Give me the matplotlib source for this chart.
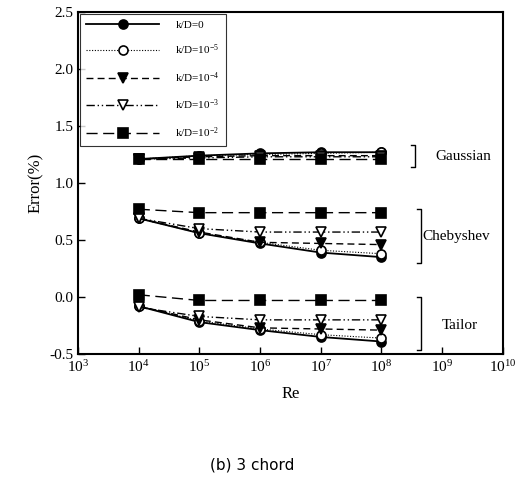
import numpy as np
import matplotlib.pyplot as plt

plt.rcParams['font.family'] = 'Liberation Serif'
plt.rcParams['mathtext.fontset'] = 'custom'
plt.rcParams['mathtext.rm'] = 'Liberation Serif'
plt.rcParams['mathtext.it'] = 'Liberation Serif:italic'

re = [1e4, 1e5, 1e6, 1e7, 1e8]
labels = ['k/D=0', 'k/D=10$^{-5}$', 'k/D=10$^{-4}$', 'k/D=10$^{-3}$', 'k/D=10$^{-2}$']

gauss = [
    [1.21, 1.24, 1.26, 1.27, 1.27],
    [1.21, 1.24, 1.25, 1.26, 1.27],
    [1.21, 1.23, 1.24, 1.24, 1.24],
    [1.21, 1.22, 1.23, 1.23, 1.23],
    [1.21, 1.21, 1.21, 1.21, 1.21],
]
cheby = [
    [0.69, 0.56, 0.47, 0.39, 0.35],
    [0.69, 0.56, 0.48, 0.41, 0.38],
    [0.69, 0.57, 0.48, 0.47, 0.46],
    [0.69, 0.60, 0.57, 0.57, 0.57],
    [0.77, 0.74, 0.74, 0.74, 0.74],
]
tailor = [
    [-0.08, -0.22, -0.29, -0.35, -0.39],
    [-0.08, -0.21, -0.28, -0.33, -0.36],
    [-0.08, -0.20, -0.27, -0.28, -0.29],
    [-0.09, -0.17, -0.20, -0.20, -0.20],
    [0.02, -0.03, -0.03, -0.03, -0.03],
]

styles = [
    dict(ls='-', marker='o', mfc='black', lw=1.3),
    dict(ls=(0, (1, 1.5)), marker='o', mfc='white', lw=0.8),
    dict(ls=(0, (5, 3)), marker='v', mfc='black', lw=1.0),
    dict(ls=(0, (6, 2, 1, 2, 1, 2)), marker='v', mfc='white', lw=1.0),
    dict(ls=(0, (8, 4)), marker='s', mfc='black', lw=1.0),
]

fig = plt.figure(figsize=(5.31, 4.98), dpi=100)
ax = fig.add_axes([0.147, 0.289, 0.8, 0.687])

for i in range(5):
    st = styles[i]
    for j, grp in enumerate([gauss, cheby, tailor]):
        ax.plot(re, grp[i], color='black', ls=st['ls'], lw=st['lw'], marker=st['marker'],
                mfc=st['mfc'], mec='black', mew=1.2, ms=6.5, label=labels[i] if j == 0 else None)

ax.set_xscale('log')
ax.set_xlim(1e3, 1e10)
ax.set_ylim(-0.5, 2.5)
ax.set_xticks([10.0**k for k in range(3, 11)])
ax.set_xticklabels(['10$^{%d}$' % k for k in range(3, 11)])
ax.set_yticks([-0.5, 0.0, 0.5, 1.0, 1.5, 2.0, 2.5])
ax.set_yticklabels(['-0.5', '0.0', '0.5', '1.0', '1.5', '2.0', '2.5'])
ax.minorticks_off()
ax.tick_params(direction='in', length=5, width=1, labelsize=11, top=False, right=False)
for s in ax.spines.values():
    s.set_linewidth(1.5)

ax.set_xlabel('Re', fontsize=12, labelpad=8)
ax.set_ylabel('Error(%)', fontsize=12, labelpad=4)

# brackets and method names
def bracket(x, y0, y1):
    xs = [x / 10**0.07, x, x, x / 10**0.07]
    ax.plot(xs, [y0, y0, y1, y1], color='black', lw=1.0)

bracket(10**8.55, 1.33, 1.14)
ax.text(10**8.88, 1.235, 'Gaussian', fontsize=11, va='center', ha='left')
bracket(10**8.65, 0.77, 0.30)
ax.text(10**8.68, 0.535, 'Chebyshev', fontsize=11, va='center', ha='left')
bracket(10**8.65, 0.00, -0.46)
ax.text(10**9.0, -0.25, 'Tailor', fontsize=11, va='center', ha='left')

leg = ax.legend(loc='upper left', bbox_to_anchor=(0.0, 1.0), fontsize=8, handlelength=6.5,
                frameon=True, fancybox=False, edgecolor='black', borderaxespad=0.15,
                labelspacing=1.15, handletextpad=1.5, borderpad=0.6)
leg.get_frame().set_linewidth(0.8)

fig.text(0.475, 0.058, '(b) 3 chord', fontsize=11, family='DejaVu Sans', ha='center')

fig.savefig('out.png', dpi=100)
